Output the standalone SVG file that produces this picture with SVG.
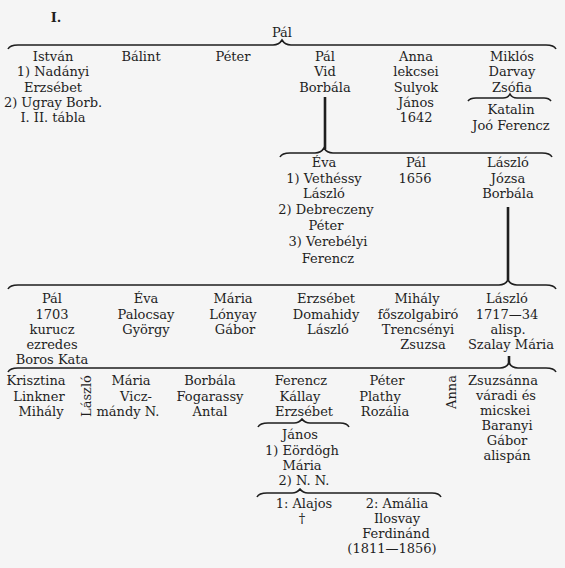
<svg xmlns="http://www.w3.org/2000/svg" width="565" height="568" viewBox="0 0 565 568">
<style>
text{font-family:"DejaVu Serif","Liberation Serif",serif;font-size:13px;fill:#1e1e1e;text-anchor:middle}
.brace{fill:none;stroke:#1e1e1e;stroke-width:1.6}
.stem{stroke:#1e1e1e;stroke-width:2.6}
</style>
<rect width="565" height="568" fill="#f5f5f5"/>
<text x="56" y="22" style="font-weight:bold">I.</text>
<g id="connectors">
<path class="brace" d="M8,49 Q10,45 18,45 L273,45 Q279,45 282,40 Q285,45 291,45 L546,45 Q554,45 556,49"/>
<path class="brace" d="M468,101 Q470,98 476,98 L503,98 Q508,98 510,94 Q512,98 517,98 L544,98 Q549,98 551,101"/>
<line class="stem" x1="325" y1="97" x2="325" y2="149"/>
<path class="brace" d="M280,157 Q282,153 290,153 L315,153 Q321,153 324,148 Q327,153 333,153 L542,153 Q550,153 552,157"/>
<line class="stem" x1="508" y1="207" x2="508" y2="280"/>
<path class="brace" d="M8,289 Q10,285 18,285 L499,285 Q505,285 508,280 Q511,285 517,285 L546,285 Q554,285 556,289"/>
<line class="stem" x1="509" y1="356" x2="509" y2="364"/>
<path class="brace" d="M8,372 Q10,368 18,368 L500,368 Q506,368 509,363 Q512,368 518,368 L546,368 Q554,368 556,372"/>
<path class="brace" d="M258,427 Q260,423 268,423 L294,423 Q299,423 302,419 Q305,423 310,423 L340,423 Q347,423 349,427"/>
<path class="brace" d="M257,497 Q259,493 267,493 L292,493 Q297,493 300,489 Q303,493 308,493 L432,493 Q439,493 441,497"/>
</g>
<g id="pal-root"><text x="282" y="37">Pál</text></g>
<g id="istvan">
<text x="53" y="61">István</text>
<text x="53" y="76">1)  Nadányi</text>
<text x="53" y="92">Erzsébet</text>
<text x="53" y="107">2) Ugray Borb.</text>
<text x="53" y="122">I. II. tábla</text>
</g>
<g id="balint"><text x="141" y="61">Bálint</text></g>
<g id="peter1"><text x="233" y="61">Péter</text></g>
<g id="pal1">
<text x="325" y="61">Pál</text>
<text x="325" y="76">Vid</text>
<text x="325" y="92">Borbála</text>
</g>
<g id="anna1">
<text x="416" y="61">Anna</text>
<text x="416" y="76">lekcsei</text>
<text x="416" y="92">Sulyok</text>
<text x="416" y="107">János</text>
<text x="416" y="122">1642</text>
</g>
<g id="miklos">
<text x="512" y="61">Miklós</text>
<text x="512" y="76">Darvay</text>
<text x="512" y="92">Zsófia</text>
</g>
<g id="katalin">
<text x="511" y="114">Katalin</text>
<text x="511" y="130">Joó  Ferencz</text>
</g>
<g id="eva2">
<text x="324" y="167">Éva</text>
<text x="324" y="183">1)  Vethéssy</text>
<text x="324" y="198">László</text>
<text x="326" y="214">2) Debreczeny</text>
<text x="326" y="230">Péter</text>
<text x="328" y="246">3) Verebélyi</text>
<text x="328" y="263">Ferencz</text>
</g>
<g id="pal2">
<text x="416" y="167">Pál</text>
<text x="415" y="183">1656</text>
</g>
<g id="laszlo2">
<text x="508" y="167">László</text>
<text x="508" y="183">Józsa</text>
<text x="508" y="198">Borbála</text>
</g>
<g id="pal3">
<text x="52" y="303">Pál</text>
<text x="52" y="319">1703</text>
<text x="52" y="334">kurucz</text>
<text x="52" y="349">ezredes</text>
<text x="52" y="364">Boros  Kata</text>
</g>
<g id="eva3">
<text x="146" y="303">Éva</text>
<text x="146" y="319">Palocsay</text>
<text x="146" y="334">György</text>
</g>
<g id="maria3">
<text x="233" y="303">Mária</text>
<text x="233" y="319">Lónyay</text>
<text x="235" y="334">Gábor</text>
</g>
<g id="erzsebet3">
<text x="326" y="303">Erzsébet</text>
<text x="326" y="319">Domahidy</text>
<text x="328" y="334">László</text>
</g>
<g id="mihaly3">
<text x="417" y="303">Mihály</text>
<text x="418" y="319">főszolgabiró</text>
<text x="418" y="334">Trencsényi</text>
<text x="423" y="349">Zsuzsa</text>
</g>
<g id="laszlo3">
<text x="507" y="303">László</text>
<text x="507" y="319">1717—34</text>
<text x="508" y="334">alisp.</text>
<text x="511" y="349">Szalay Mária</text>
</g>
<g id="krisztina">
<text x="36" y="385">Krisztina</text>
<text x="39" y="401">Linkner</text>
<text x="41" y="416">Mihály</text>
</g>
<g id="laszlo4"><text transform="translate(91,396) rotate(-90)">László</text></g>
<g id="maria4">
<text x="131" y="385">Mária</text>
<text x="136" y="401">Vicz-</text>
<text x="128" y="416">mándy N.</text>
</g>
<g id="borbala4">
<text x="210" y="385">Borbála</text>
<text x="210" y="401">Fogarassy</text>
<text x="210" y="416">Antal</text>
</g>
<g id="ferencz4">
<text x="301" y="385">Ferencz</text>
<text x="300" y="401">Kállay</text>
<text x="304" y="416">Erzsébet</text>
</g>
<g id="peter4">
<text x="387" y="385">Péter</text>
<text x="380" y="401">Plathy</text>
<text x="385" y="416">Rozália</text>
</g>
<g id="anna4"><text transform="translate(456,392) rotate(-90)">Anna</text></g>
<g id="zsuzsanna">
<text x="503" y="385">Zsuzsánna</text>
<text x="506" y="400">váradi  és</text>
<text x="505" y="415">micskei</text>
<text x="507" y="430">Baranyi</text>
<text x="507" y="445">Gábor</text>
<text x="507" y="460">alispán</text>
</g>
<g id="janos">
<text x="300" y="439">János</text>
<text x="302" y="455">1)  Eördögh</text>
<text x="302" y="470">Mária</text>
<text x="304" y="485">2)  N.  N.</text>
</g>
<g id="alajos">
<text x="304" y="508">1:  Alajos</text>
<text x="302" y="523">†</text>
</g>
<g id="amalia">
<text x="397" y="508">2: Amália</text>
<text x="397" y="523">Ilosvay</text>
<text x="396" y="538">Ferdinánd</text>
<text x="392" y="553">(1811—1856)</text>
</g>
</svg>
